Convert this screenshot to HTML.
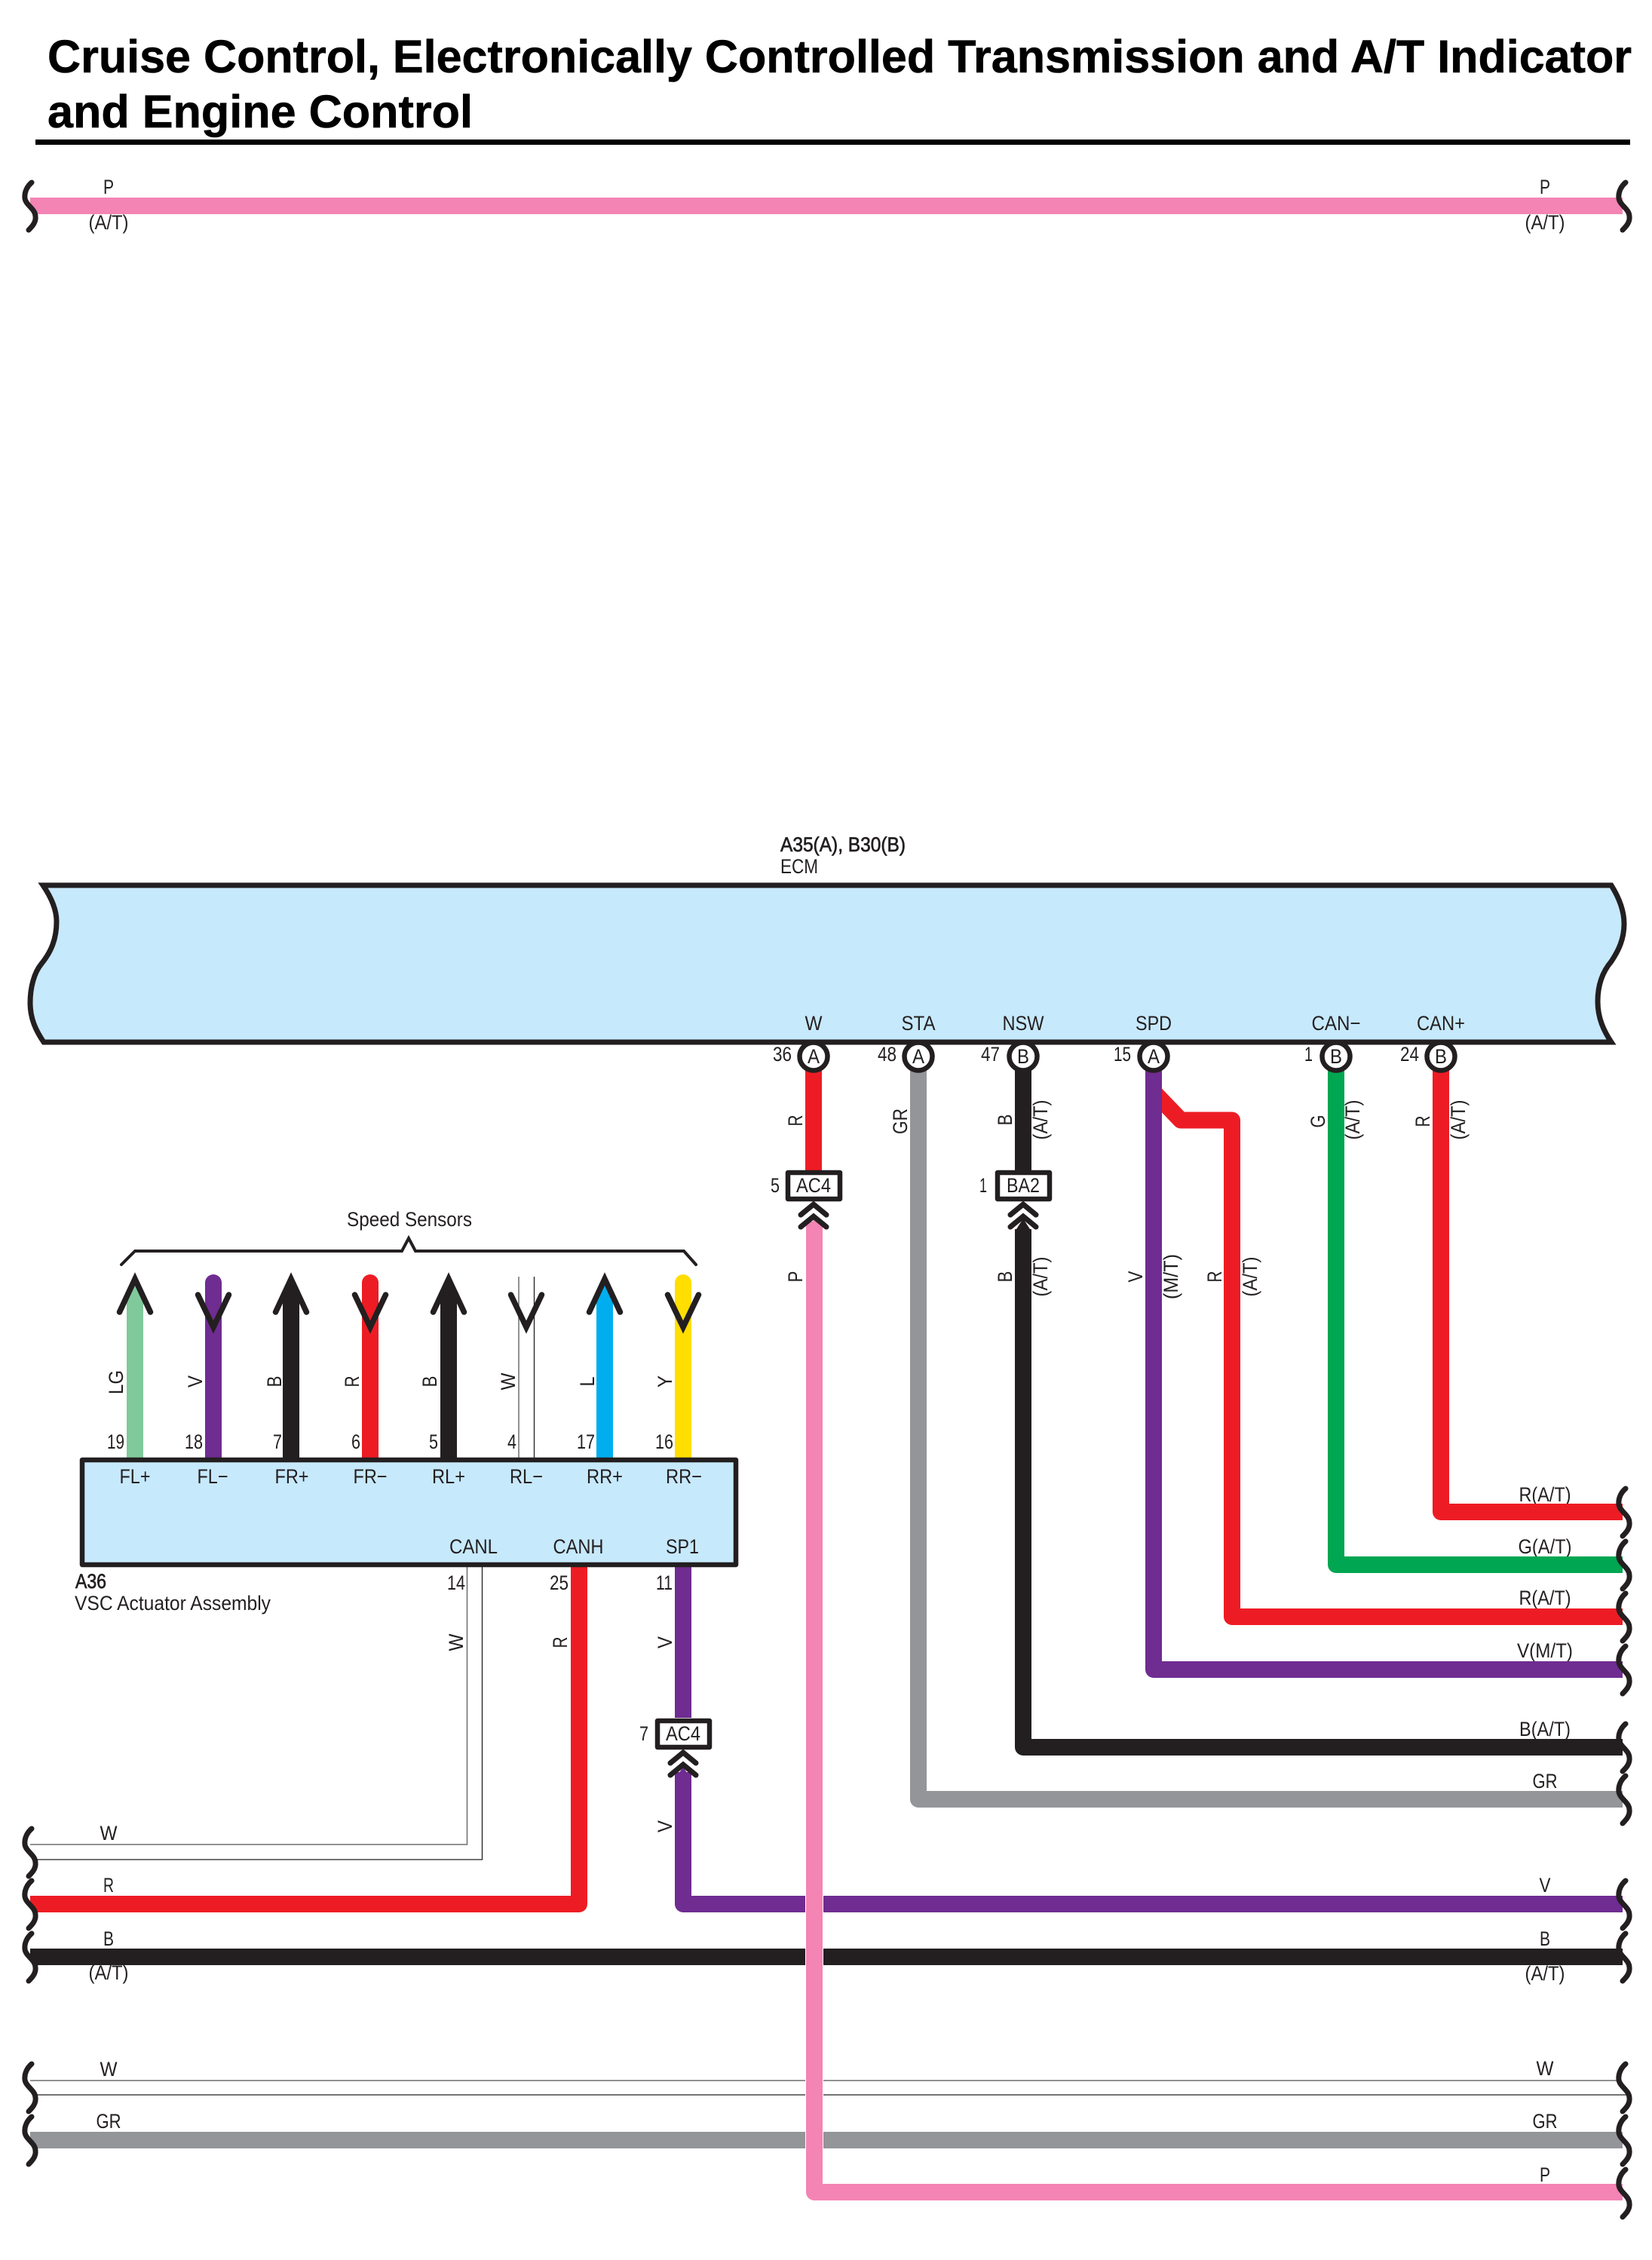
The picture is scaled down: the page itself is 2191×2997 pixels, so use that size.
<!DOCTYPE html>
<html lang="en">
<head>
<meta charset="utf-8">
<title>Cruise Control, Electronically Controlled Transmission and A/T Indicator and Engine Control</title>
<style>
html,body{margin:0;padding:0;background:#fff}
svg{display:block}
text{font-family:"Liberation Sans",sans-serif;font-size:27px;fill:#231f20}
.t{font-weight:700;font-size:61px;fill:#000;stroke:#000;stroke-width:.6px}
.m{text-anchor:middle}
.e{text-anchor:end}
.w{fill:none;stroke-linejoin:round}
</style>
</head>
<body>
<svg xmlns="http://www.w3.org/2000/svg" width="2191" height="2997" viewBox="0 0 2191 2997">
<defs>
<path id="b" d="M0,-31 C-6,-26 -10,-18 -9,-10 C-8,-1 5,4 5,14 C6,22 0,28 -4,32" fill="none" stroke="#231f20" stroke-width="7" stroke-linecap="round"/>
</defs>
<rect width="2191" height="2997" fill="#fff"/>

<!-- Title -->
<text class="t" x="63" y="96" textLength="2101" lengthAdjust="spacingAndGlyphs">Cruise Control, Electronically Controlled Transmission and A/T Indicator</text>
<text class="t" x="63" y="169" textLength="564" lengthAdjust="spacingAndGlyphs">and Engine Control</text>
<rect x="47" y="185" width="2115" height="7" fill="#000"/>

<!-- Bus labels: left -->
<text class="m" x="144" y="257" textLength="14" lengthAdjust="spacingAndGlyphs">P</text>
<text class="m" x="144" y="304" textLength="53" lengthAdjust="spacingAndGlyphs">(A/T)</text>
<text class="m" x="144" y="2440" textLength="23" lengthAdjust="spacingAndGlyphs">W</text>
<text class="m" x="144" y="2509" textLength="14" lengthAdjust="spacingAndGlyphs">R</text>
<text class="m" x="144" y="2580" textLength="14" lengthAdjust="spacingAndGlyphs">B</text>
<text class="m" x="144" y="2625" textLength="53" lengthAdjust="spacingAndGlyphs">(A/T)</text>
<text class="m" x="144" y="2753" textLength="23" lengthAdjust="spacingAndGlyphs">W</text>
<text class="m" x="144" y="2822" textLength="33" lengthAdjust="spacingAndGlyphs">GR</text>

<!-- Bus labels: right -->
<text class="m" x="2049" y="257" textLength="14" lengthAdjust="spacingAndGlyphs">P</text>
<text class="m" x="2049" y="304" textLength="53" lengthAdjust="spacingAndGlyphs">(A/T)</text>
<text class="m" x="2049" y="1991" textLength="69" lengthAdjust="spacingAndGlyphs">R(A/T)</text>
<text class="m" x="2049" y="2060" textLength="71" lengthAdjust="spacingAndGlyphs">G(A/T)</text>
<text class="m" x="2049" y="2128" textLength="69" lengthAdjust="spacingAndGlyphs">R(A/T)</text>
<text class="m" x="2049" y="2198" textLength="74" lengthAdjust="spacingAndGlyphs">V(M/T)</text>
<text class="m" x="2049" y="2302" textLength="68" lengthAdjust="spacingAndGlyphs">B(A/T)</text>
<text class="m" x="2049" y="2371" textLength="33" lengthAdjust="spacingAndGlyphs">GR</text>
<text class="m" x="2049" y="2509" textLength="15" lengthAdjust="spacingAndGlyphs">V</text>
<text class="m" x="2049" y="2580" textLength="14" lengthAdjust="spacingAndGlyphs">B</text>
<text class="m" x="2049" y="2626" textLength="53" lengthAdjust="spacingAndGlyphs">(A/T)</text>
<text class="m" x="2049" y="2752" textLength="23" lengthAdjust="spacingAndGlyphs">W</text>
<text class="m" x="2049" y="2822" textLength="33" lengthAdjust="spacingAndGlyphs">GR</text>
<text class="m" x="2049" y="2893" textLength="14" lengthAdjust="spacingAndGlyphs">P</text>

<!-- Rotated wire labels: ECM upper row -->
<g class="m">
<text class="m" transform="translate(1064,1486) rotate(-90)" textLength="15" lengthAdjust="spacingAndGlyphs">R</text>
<text class="m" transform="translate(1203,1487) rotate(-90)" textLength="34" lengthAdjust="spacingAndGlyphs">GR</text>
<text class="m" transform="translate(1342,1485) rotate(-90)" textLength="15" lengthAdjust="spacingAndGlyphs">B</text>
<text class="m" transform="translate(1389,1485) rotate(-90)" textLength="53" lengthAdjust="spacingAndGlyphs">(A/T)</text>
<text class="m" transform="translate(1757,1487) rotate(-90)" textLength="17" lengthAdjust="spacingAndGlyphs">G</text>
<text class="m" transform="translate(1803,1485) rotate(-90)" textLength="53" lengthAdjust="spacingAndGlyphs">(A/T)</text>
<text class="m" transform="translate(1896,1487) rotate(-90)" textLength="15" lengthAdjust="spacingAndGlyphs">R</text>
<text class="m" transform="translate(1943,1485) rotate(-90)" textLength="53" lengthAdjust="spacingAndGlyphs">(A/T)</text>
<!-- lower row -->
<text class="m" transform="translate(1064,1693) rotate(-90)" textLength="15" lengthAdjust="spacingAndGlyphs">P</text>
<text class="m" transform="translate(1342,1693) rotate(-90)" textLength="15" lengthAdjust="spacingAndGlyphs">B</text>
<text class="m" transform="translate(1389,1693) rotate(-90)" textLength="53" lengthAdjust="spacingAndGlyphs">(A/T)</text>
<text class="m" transform="translate(1515,1693) rotate(-90)" textLength="15" lengthAdjust="spacingAndGlyphs">V</text>
<text class="m" transform="translate(1562,1693) rotate(-90)" textLength="60" lengthAdjust="spacingAndGlyphs">(M/T)</text>
<text class="m" transform="translate(1620,1693) rotate(-90)" textLength="15" lengthAdjust="spacingAndGlyphs">R</text>
<text class="m" transform="translate(1667,1693) rotate(-90)" textLength="53" lengthAdjust="spacingAndGlyphs">(A/T)</text>
<!-- sensor row -->
<text class="m" transform="translate(163,1833) rotate(-90)" textLength="32" lengthAdjust="spacingAndGlyphs">LG</text>
<text class="m" transform="translate(268,1832) rotate(-90)" textLength="16" lengthAdjust="spacingAndGlyphs">V</text>
<text class="m" transform="translate(373,1832) rotate(-90)" textLength="15" lengthAdjust="spacingAndGlyphs">B</text>
<text class="m" transform="translate(476,1832) rotate(-90)" textLength="15" lengthAdjust="spacingAndGlyphs">R</text>
<text class="m" transform="translate(579,1832) rotate(-90)" textLength="15" lengthAdjust="spacingAndGlyphs">B</text>
<text class="m" transform="translate(683,1832) rotate(-90)" textLength="23" lengthAdjust="spacingAndGlyphs">W</text>
<text class="m" transform="translate(788,1832) rotate(-90)" textLength="13" lengthAdjust="spacingAndGlyphs">L</text>
<text class="m" transform="translate(891,1832) rotate(-90)" textLength="16" lengthAdjust="spacingAndGlyphs">Y</text>
<!-- below VSC -->
<text class="m" transform="translate(614,2178) rotate(-90)" textLength="23" lengthAdjust="spacingAndGlyphs">W</text>
<text class="m" transform="translate(752,2178) rotate(-90)" textLength="15" lengthAdjust="spacingAndGlyphs">R</text>
<text class="m" transform="translate(891,2178) rotate(-90)" textLength="16" lengthAdjust="spacingAndGlyphs">V</text>
<text class="m" transform="translate(891,2422) rotate(-90)" textLength="16" lengthAdjust="spacingAndGlyphs">V</text>
</g>

<!-- Speed sensors brace -->
<text class="m" x="543" y="1626" textLength="166" lengthAdjust="spacingAndGlyphs">Speed Sensors</text>
<path d="M161,1677 L179,1659 L533,1659 L542,1642 L551,1659 L907,1659 L923,1677" fill="none" stroke="#231f20" stroke-width="4" stroke-linecap="round"/>

<!-- ECM labels -->
<text x="1035" y="1129" textLength="166" lengthAdjust="spacingAndGlyphs" stroke="#231f20" stroke-width=".7">A35(A), B30(B)</text>
<text x="1035" y="1158" textLength="50" lengthAdjust="spacingAndGlyphs">ECM</text>

<!-- VSC external labels -->
<text x="100" y="2106" textLength="41" lengthAdjust="spacingAndGlyphs" stroke="#231f20" stroke-width=".7">A36</text>
<text x="99" y="2135" textLength="260" lengthAdjust="spacingAndGlyphs">VSC Actuator Assembly</text>

<!-- Buses and wires -->
<g class="w" stroke-width="22">
<path d="M40,273 H2152" stroke="#f384b4"/>
<!-- sensor wires -->
<path d="M179,1990 V1716" stroke="#80c99b"/>
<path d="M283,1990 V1701" stroke="#6f2c91" stroke-linecap="round"/>
<path d="M386,1990 V1716" stroke="#231f20"/>
<path d="M491,1990 V1701" stroke="#ed1c24" stroke-linecap="round"/>
<path d="M595,1990 V1716" stroke="#231f20"/>
<path d="M802,1990 V1716" stroke="#00aeef"/>
<path d="M906,1990 V1701" stroke="#ffde00" stroke-linecap="round"/>
<!-- VSC lower wires -->
<path d="M40,2525 H768 V2040" stroke="#ed1c24"/>
<path d="M906,2040 V2278" stroke="#6f2c91"/>
<path d="M906,2350 V2525 H2152" stroke="#6f2c91"/>
<!-- ECM wires -->
<path d="M1079,1410 V1555" stroke="#ed1c24"/>
<path d="M1218,1410 V2386 H2152" stroke="#939598"/>
<path d="M1357,1410 V1555" stroke="#231f20"/>
<path d="M1357,1630 V2317 H2152" stroke="#231f20"/>
<path d="M1530,1448 L1566,1485.500 H1634 V2144 H2152" stroke="#ed1c24"/>
<path d="M1530,1410 V2214 H2152" stroke="#6f2c91"/>
<path d="M1772,1410 V2075 H2152" stroke="#00a651"/>
<path d="M1911,1410 V2005 H2152" stroke="#ed1c24"/>
<!-- left / long buses -->
<path d="M40,2595 H2152" stroke="#231f20"/>
<path d="M40,2838 H2152" stroke="#939598"/>
</g>
<!-- corners trimmed where buses meet the left break marks -->
<g fill="#fff">
<polygon points="34,271 46,285 34,285"/>
<polygon points="34,2523 46,2537 34,2537"/>
<polygon points="34,2593 46,2607 34,2607"/>
<polygon points="34,2836 46,2850 34,2850"/>
</g>
<!-- thin white wires -->
<g fill="none">
<path d="M688,1693 V1936 M619.500,2075 V2446 H40" stroke="#6d6e71" stroke-width="1.500"/>
<path d="M708.500,1693 V1936 M639.500,2075 V2466 H48" stroke="#231f20" stroke-width="1.300"/>
<path d="M40,2759 H2148" stroke="#6d6e71" stroke-width="1.500"/>
<path d="M48,2778 H2157" stroke="#231f20" stroke-width="1.300"/>
</g>
<!-- pink wire with halo -->
<path d="M1080,1620 V2907 H2152" fill="none" stroke="#fff" stroke-width="24" stroke-linejoin="round"/>
<path d="M1080,1620 V2907 H2152" fill="none" stroke="#f384b4" stroke-width="22" stroke-linejoin="round"/>

<!-- Arrow tips on up wires -->
<polygon points="168,1720 179,1700 190,1720" fill="#80c99b"/>
<polygon points="375,1720 386,1700 397,1720" fill="#231f20"/>
<polygon points="584,1720 595,1700 606,1720" fill="#231f20"/>
<polygon points="791,1720 802,1700 813,1720" fill="#00aeef"/>
<g fill="none" stroke="#231f20" stroke-width="7.500" stroke-linecap="round" stroke-linejoin="miter" stroke-miterlimit="10">
<path d="M158.500,1740 L179,1696 L199.500,1740"/>
<path d="M365.500,1740 L386,1696 L406.500,1740"/>
<path d="M574.500,1740 L595,1696 L615.500,1740"/>
<path d="M781.500,1740 L802,1696 L822.500,1740"/>
<path d="M262.500,1717 L283,1760 L303.500,1717"/>
<path d="M470.500,1717 L491,1760 L511.500,1717"/>
<path d="M677.500,1717 L698,1760 L718.500,1717"/>
<path d="M885.500,1717 L906,1760 L926.500,1717"/>
</g>

<!-- ECM box -->
<path d="M57,1174 H2137 C2147,1190 2154,1207 2154,1225 C2154,1245 2147,1260 2137,1275 C2126,1288 2119,1305 2119,1328 C2119,1350 2127,1367 2137,1382 H58 C47,1366 40,1350 40,1330 C40,1310 45,1290 55,1278 C68,1262 75,1245 75,1222 C75,1208 70,1193 57,1174 Z" fill="#c7e9fc" stroke="#231f20" stroke-width="7" stroke-linejoin="miter" stroke-miterlimit="3"/>
<text class="m" x="1079" y="1366" textLength="23" lengthAdjust="spacingAndGlyphs">W</text>
<text class="m" x="1218" y="1366" textLength="45" lengthAdjust="spacingAndGlyphs">STA</text>
<text class="m" x="1357" y="1366" textLength="55" lengthAdjust="spacingAndGlyphs">NSW</text>
<text class="m" x="1530" y="1366" textLength="48" lengthAdjust="spacingAndGlyphs">SPD</text>
<text class="m" x="1772" y="1366" textLength="65" lengthAdjust="spacingAndGlyphs">CAN−</text>
<text class="m" x="1911" y="1366" textLength="64" lengthAdjust="spacingAndGlyphs">CAN+</text>

<!-- Pins -->
<g fill="#fff" stroke="#231f20" stroke-width="6.500">
<circle cx="1079" cy="1401" r="18.500"/>
<circle cx="1218" cy="1401" r="18.500"/>
<circle cx="1357" cy="1401" r="18.500"/>
<circle cx="1530" cy="1401" r="18.500"/>
<circle cx="1772" cy="1401" r="18.500"/>
<circle cx="1911" cy="1401" r="18.500"/>
</g>
<text class="m" x="1079" y="1410" textLength="16" lengthAdjust="spacingAndGlyphs">A</text>
<text class="m" x="1218" y="1410" textLength="16" lengthAdjust="spacingAndGlyphs">A</text>
<text class="m" x="1357" y="1410" textLength="16" lengthAdjust="spacingAndGlyphs">B</text>
<text class="m" x="1530" y="1410" textLength="16" lengthAdjust="spacingAndGlyphs">A</text>
<text class="m" x="1772" y="1410" textLength="16" lengthAdjust="spacingAndGlyphs">B</text>
<text class="m" x="1911" y="1410" textLength="16" lengthAdjust="spacingAndGlyphs">B</text>
<text class="e" x="1050" y="1407" textLength="25" lengthAdjust="spacingAndGlyphs">36</text>
<text class="e" x="1189" y="1407" textLength="25" lengthAdjust="spacingAndGlyphs">48</text>
<text class="e" x="1326" y="1407" textLength="25" lengthAdjust="spacingAndGlyphs">47</text>
<text class="e" x="1500" y="1407" textLength="23" lengthAdjust="spacingAndGlyphs">15</text>
<text class="e" x="1741" y="1407" textLength="11" lengthAdjust="spacingAndGlyphs">1</text>
<text class="e" x="1882" y="1407" textLength="25" lengthAdjust="spacingAndGlyphs">24</text>

<!-- In-line connectors -->
<g fill="#fff" stroke="#231f20" stroke-width="6.500" stroke-linejoin="round">
<rect x="1045" y="1555" width="69" height="35"/>
<rect x="1323" y="1555" width="69" height="35"/>
<rect x="872" y="2282" width="69" height="35"/>
</g>
<text class="m" x="1079" y="1581" textLength="46" lengthAdjust="spacingAndGlyphs">AC4</text>
<text class="m" x="1357" y="1581" textLength="44" lengthAdjust="spacingAndGlyphs">BA2</text>
<text class="m" x="906" y="2308" textLength="46" lengthAdjust="spacingAndGlyphs">AC4</text>
<text class="e" x="1034" y="1581" textLength="12" lengthAdjust="spacingAndGlyphs">5</text>
<text class="e" x="1309" y="1581" textLength="10" lengthAdjust="spacingAndGlyphs">1</text>
<text class="e" x="860" y="2308" textLength="12" lengthAdjust="spacingAndGlyphs">7</text>

<!-- Chevrons -->
<polygon points="1069,1633 1080,1616 1091,1633" fill="#f384b4"/>
<polygon points="1346,1633 1357,1616 1368,1633" fill="#231f20"/>
<polygon points="895,2360 906,2343 917,2360" fill="#6f2c91"/>
<g fill="none" stroke="#231f20" stroke-width="7" stroke-linecap="round" stroke-linejoin="miter" stroke-miterlimit="6">
<path d="M1062,1611 L1079,1597 L1096,1611 M1062,1627 L1079,1613 L1096,1627"/>
<path d="M1340,1611 L1357,1597 L1374,1611 M1340,1627 L1357,1613 L1374,1627"/>
<path d="M889,2338 L906,2324 L923,2338 M889,2354 L906,2340 L923,2354"/>
</g>

<!-- VSC Actuator box -->
<rect x="109" y="1936" width="867" height="139" fill="#c7e9fc" stroke="#231f20" stroke-width="6.500" stroke-linejoin="round"/>
<text class="m" x="179" y="1967" textLength="41" lengthAdjust="spacingAndGlyphs">FL+</text>
<text class="m" x="282" y="1967" textLength="41" lengthAdjust="spacingAndGlyphs">FL−</text>
<text class="m" x="387" y="1967" textLength="45" lengthAdjust="spacingAndGlyphs">FR+</text>
<text class="m" x="491" y="1967" textLength="45" lengthAdjust="spacingAndGlyphs">FR−</text>
<text class="m" x="595" y="1967" textLength="44" lengthAdjust="spacingAndGlyphs">RL+</text>
<text class="m" x="698" y="1967" textLength="44" lengthAdjust="spacingAndGlyphs">RL−</text>
<text class="m" x="802" y="1967" textLength="48" lengthAdjust="spacingAndGlyphs">RR+</text>
<text class="m" x="907" y="1967" textLength="48" lengthAdjust="spacingAndGlyphs">RR−</text>
<text class="m" x="628" y="2060" textLength="64" lengthAdjust="spacingAndGlyphs">CANL</text>
<text class="m" x="767" y="2060" textLength="67" lengthAdjust="spacingAndGlyphs">CANH</text>
<text class="m" x="905" y="2060" textLength="44" lengthAdjust="spacingAndGlyphs">SP1</text>

<!-- VSC pin numbers -->
<text class="e" x="165" y="1921" textLength="23" lengthAdjust="spacingAndGlyphs">19</text>
<text class="e" x="269" y="1921" textLength="24" lengthAdjust="spacingAndGlyphs">18</text>
<text class="e" x="374" y="1921" textLength="12" lengthAdjust="spacingAndGlyphs">7</text>
<text class="e" x="478" y="1921" textLength="12" lengthAdjust="spacingAndGlyphs">6</text>
<text class="e" x="581" y="1921" textLength="12" lengthAdjust="spacingAndGlyphs">5</text>
<text class="e" x="685" y="1921" textLength="12" lengthAdjust="spacingAndGlyphs">4</text>
<text class="e" x="789" y="1921" textLength="24" lengthAdjust="spacingAndGlyphs">17</text>
<text class="e" x="893" y="1921" textLength="24" lengthAdjust="spacingAndGlyphs">16</text>
<text class="e" x="617" y="2108" textLength="24" lengthAdjust="spacingAndGlyphs">14</text>
<text class="e" x="754" y="2108" textLength="25" lengthAdjust="spacingAndGlyphs">25</text>
<text class="e" x="892" y="2108" textLength="22" lengthAdjust="spacingAndGlyphs">11</text>

<!-- Break symbols -->
<use href="#b" x="42" y="273"/>
<use href="#b" x="42" y="2456"/>
<use href="#b" x="42" y="2525"/>
<use href="#b" x="42" y="2595"/>
<use href="#b" x="42" y="2768"/>
<use href="#b" x="42" y="2838"/>
<use href="#b" x="2156" y="273"/>
<use href="#b" x="2156" y="2005"/>
<use href="#b" x="2156" y="2075"/>
<use href="#b" x="2156" y="2144"/>
<use href="#b" x="2156" y="2214"/>
<use href="#b" x="2156" y="2317"/>
<use href="#b" x="2156" y="2386"/>
<use href="#b" x="2156" y="2525"/>
<use href="#b" x="2156" y="2595"/>
<use href="#b" x="2156" y="2768"/>
<use href="#b" x="2156" y="2838"/>
<use href="#b" x="2156" y="2908"/>
</svg>
</body>
</html>
